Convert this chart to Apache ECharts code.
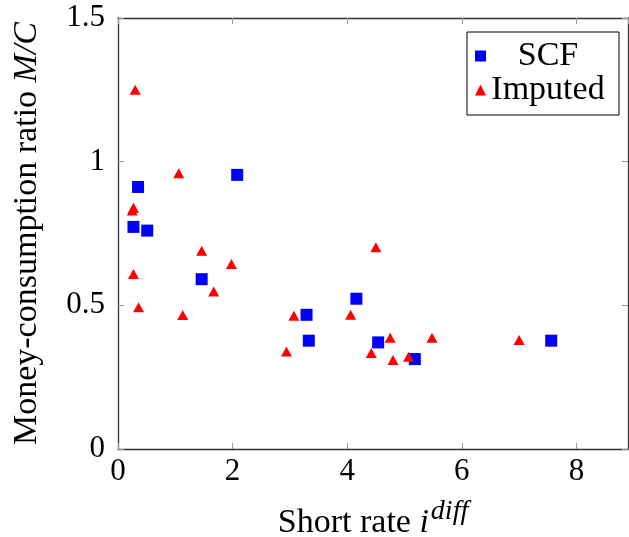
<!DOCTYPE html>
<html><head><meta charset="utf-8">
<script src="https://cdn.jsdelivr.net/npm/echarts@6/dist/echarts.min.js"></script>
<style>html,body{margin:0;padding:0;background:#fff}#c{width:629px;height:537px}</style>
</head><body><div id="c"></div>
<script>
const scfX = [0.35, 0.27, 0.51, 2.08, 1.46, 3.29, 3.33, 4.16, 4.54, 5.18, 7.56];
const scfY = [0.912, 0.773, 0.760, 0.954, 0.591, 0.467, 0.377, 0.523, 0.371, 0.313, 0.377];
const impX = [0.30, 1.06, 0.27, 0.25, 1.46, 1.98, 0.27, 1.67, 0.36, 1.13, 4.50, 3.07, 4.06, 2.94, 4.75, 5.48, 4.42, 4.80, 5.07, 7.00];
const impY = [1.25, 0.96, 0.84, 0.83, 0.69, 0.644, 0.609, 0.548, 0.493, 0.466, 0.702, 0.464, 0.467, 0.339, 0.387, 0.387, 0.334, 0.310, 0.321, 0.379];
const xTicks = [0, 2, 4, 6, 8];
const yTicks = [0, 0.5, 1, 1.5];
const seriesNames = ['SCF', 'Imputed'];

const FONT = 'Liberation Serif';
const FS = 31;   // tick labels
const FN = 34;   // names / legend
const frame = '#333';
const tickC = '#999';
const chart = echarts.init(document.getElementById('c'), null, {renderer: 'canvas'});
const zip = (a, b) => a.map((v, i) => [v, b[i]]);
const xFmt = v => xTicks.some(t => Math.abs(t - v) < 1e-9) ? String(v) : '';
const yFmt = v => yTicks.some(t => Math.abs(t - v) < 1e-9) ? String(v) : '';
chart.setOption({
  animation: false,
  textStyle: {fontFamily: FONT},
  grid: {left: 118, right: 1, top: 18, bottom: 88, containLabel: false, outerBoundsMode: 'none'},
  xAxis: [{
    type: 'value', min: 0, max: 8.9, interval: 2, position: 'bottom',
    axisLine: {show: true, onZero: false, lineStyle: {color: frame, width: 1.3}},
    axisTick: {show: true, inside: true, length: 6, lineStyle: {color: tickC}},
    splitLine: {show: false},
    axisLabel: {formatter: xFmt, color: '#000', fontFamily: FONT, fontSize: FS, margin: 7, showMaxLabel: false},
    name: '{n|Short rate }{i|i}{s|diff}',
    nameLocation: 'middle', nameGap: 49,
    nameTextStyle: {color: '#000', fontFamily: FONT, fontSize: FN,
      rich: {n: {fontFamily: FONT, fontSize: FN, color: '#000'},
             i: {fontFamily: FONT, fontSize: FN, fontStyle: 'italic', color: '#000'},
             s: {fontFamily: FONT, fontSize: 28, fontStyle: 'italic', color: '#000', padding: [0, 0, 22, 2]}}}
  }, {
    type: 'value', min: 0, max: 8.9, interval: 2, position: 'top',
    axisLine: {show: true, onZero: false, lineStyle: {color: frame, width: 1.3}},
    axisTick: {show: true, inside: true, length: 6, lineStyle: {color: tickC}},
    splitLine: {show: false}, axisLabel: {show: false}
  }],
  yAxis: [{
    type: 'value', min: 0, max: 1.5, interval: 0.5, position: 'left',
    axisLine: {show: true, onZero: false, lineStyle: {color: frame, width: 1.3}},
    axisTick: {show: true, inside: true, length: 6, lineStyle: {color: tickC}},
    splitLine: {show: false},
    axisLabel: {formatter: yFmt, color: '#000', fontFamily: FONT, fontSize: FS, margin: 13},
    name: '{n|Money-consumption ratio }{i|M/C}',
    nameLocation: 'middle', nameGap: 74, nameRotate: 90,
    nameTextStyle: {color: '#000', fontFamily: FONT, fontSize: FN,
      rich: {n: {fontFamily: FONT, fontSize: FN, color: '#000'},
             i: {fontFamily: FONT, fontSize: FN, fontStyle: 'italic', color: '#000'}}}
  }, {
    type: 'value', min: 0, max: 1.5, interval: 0.5, position: 'right',
    axisLine: {show: true, onZero: false, lineStyle: {color: frame, width: 1.3}},
    axisTick: {show: true, inside: true, length: 6, lineStyle: {color: tickC}},
    splitLine: {show: false}, axisLabel: {show: false}
  }],
  legend: {
    orient: 'vertical', left: 467, top: 32,
    borderColor: '#000', borderWidth: 1, padding: [7, 14, 8, 8],
    itemWidth: 11, itemHeight: 11, itemGap: 0,
    data: [{name: seriesNames[0], icon: 'rect'}, {name: seriesNames[1], icon: 'triangle'}],
    formatter: n => '{c|' + n + '}',
    textStyle: {fontFamily: FONT, fontSize: FN, color: '#000',
      rich: {c: {fontFamily: FONT, fontSize: FN, color: '#000', width: 114, align: 'center', lineHeight: 35}}}
  },
  series: [{
    name: seriesNames[0], type: 'scatter', symbol: 'rect', symbolSize: 12,
    itemStyle: {color: '#0000ff', opacity: 1}, data: zip(scfX, scfY)
  }, {
    name: seriesNames[1], type: 'scatter', symbol: 'triangle', symbolSize: [11, 10],
    itemStyle: {color: '#ff0000', opacity: 1}, data: zip(impX, impY)
  }]
});
</script></body></html>
